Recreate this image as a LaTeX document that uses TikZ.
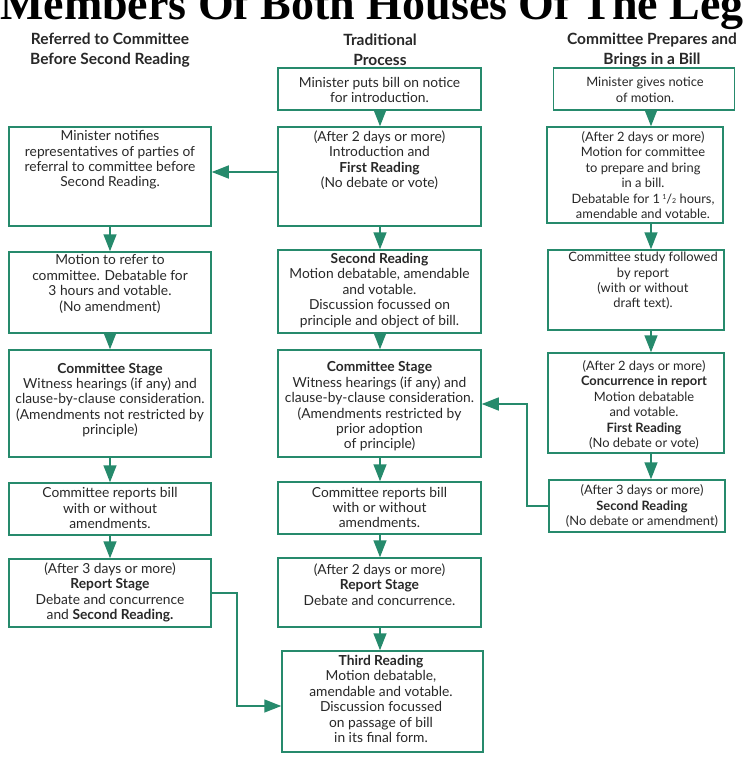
\documentclass[tikz,border=0pt]{standalone}
\usepackage{fontspec}
\setmainfont{Lato}
\newfontfamily\titlefont{Liberation Serif}
\usetikzlibrary{arrows.meta}
\definecolor{tealc}{RGB}{38,138,108}
\definecolor{inkc}{RGB}{40,40,40}
\newcommand{\onehalf}{1\,\raisebox{0.55ex}{\scriptsize 1}/{\scriptsize 2}}
\begin{document}
\begin{tikzpicture}[x=1pt,y=-1pt,
  box/.style={draw=tealc, line width=1.5pt, inner sep=0pt},
  txt/.style={align=center, text=inkc, inner sep=0pt, font=\fontsize{13.8}{15.4}\selectfont},
  rtxt/.style={txt, font=\fontsize{12.9}{15.4}\selectfont},
  hdr/.style={align=center, text=inkc, inner sep=0pt, font=\bfseries\fontsize{15.5}{20}\selectfont},
  arr/.style={draw=tealc, line width=1.5pt, -{Triangle[length=17pt,width=13pt]}}]
\useasboundingbox (0,0) rectangle (743,758);
\clip (0,0) rectangle (743,758);
\fill[white] (0,0) rectangle (743,758);

% title (cut off at the top, as in the reference)
\node[anchor=base west, inner sep=0pt, font=\titlefont\bfseries\fontsize{46}{46}\selectfont] (title) at (0,19) {Members Of Both Houses Of The Leg};

% headers
\node[hdr] (h1) at (110,50) {Referred to Committee\\Before Second Reading};
\node[hdr] (h2) at (380,50) {Traditional\\Process};
\node[hdr] (h3) at (652,50) {Committee Prepares and\\Brings in a Bill};

% left column
\node[box, minimum width=202pt, minimum height=99pt] (L1) at (110,176.5) {};
\node[box, minimum width=202pt, minimum height=81pt] (L2) at (110,292.5) {};
\node[box, minimum width=202pt, minimum height=107pt] (L3) at (110,403.5) {};
\node[box, minimum width=202pt, minimum height=52pt] (L4) at (110,509) {};
\node[box, minimum width=202pt, minimum height=68pt] (L5) at (110,593) {};

\node[txt] (L1t) at (110,160) {Minister notifies\\representatives of parties of\\referral to committee before\\Second Reading.};
\node[txt] (L2t) at (110,284) {Motion to refer to\\committee. Debatable for\\3 hours and votable.\\(No amendment)};
\node[txt] (L3t) at (110,400) {\textbf{Committee Stage}\\Witness hearings (if any) and\\clause-by-clause consideration.\\(Amendments not restricted by\\principle)};
\node[txt] (L4t) at (110,508) {Committee reports bill\\with or without\\amendments.};
\node[txt] (L5t) at (110,592.5) {(After 3 days or more)\\\textbf{Report Stage}\\Debate and concurrence\\and \textbf{Second Reading.}};

% centre column
\node[box, minimum width=203pt, minimum height=42pt] (C0) at (379.5,89) {};
\node[box, minimum width=203pt, minimum height=99pt] (C1) at (379.5,176.5) {};
\node[box, minimum width=203pt, minimum height=83pt] (C2) at (379.5,291.5) {};
\node[box, minimum width=203pt, minimum height=107pt] (C3) at (379.5,403.5) {};
\node[box, minimum width=203pt, minimum height=52pt] (C4) at (379.5,508) {};
\node[box, minimum width=203pt, minimum height=69pt] (C5) at (379.5,592.5) {};
\node[box, minimum width=201pt, minimum height=101pt] (C6) at (382.5,701.5) {};

\node[txt] (C0t) at (379.5,90) {Minister puts bill on notice\\for introduction.};
\node[txt] (C1t) at (379.5,160) {(After 2 days or more)\\Introduction and\\\textbf{First Reading}\\(No debate or vote)};
\node[txt] (C2t) at (379.5,290.5) {\textbf{Second Reading}\\Motion debatable, amendable\\and votable.\\Discussion focussed on\\principle and object of bill.};
\node[txt] (C3t) at (379.5,406.5) {\textbf{Committee Stage}\\Witness hearings (if any) and\\clause-by-clause consideration.\\(Amendments restricted by\\prior adoption\\of principle)};
\node[txt] (C4t) at (379.5,507.5) {Committee reports bill\\with or without\\amendments.};
\node[txt] (C5t) at (379.5,584.5) {(After 2 days or more)\\\textbf{Report Stage}\\Debate and concurrence.};
\node[txt] (C6t) at (381,699) {\textbf{Third Reading}\\Motion debatable,\\amendable and votable.\\Discussion focussed\\on passage of bill\\in its final form.};

% right column
\node[box, minimum width=181pt, minimum height=42pt] (R0) at (644,89) {};
\node[box, minimum width=176pt, minimum height=96pt] (R1) at (635,175) {};
\node[box, minimum width=176pt, minimum height=80pt] (R2) at (636,290) {};
\node[box, minimum width=176pt, minimum height=100pt] (R3) at (636,403) {};
\node[box, minimum width=176pt, minimum height=52pt] (R4) at (637,506) {};

\node[rtxt] (R0t) at (645,90) {Minister gives notice\\of motion.};
\node[rtxt] (R1t) at (643,175) {(After 2 days or more)\\Motion for committee\\to prepare and bring\\in a bill.\\Debatable for \onehalf{} hours,\\amendable and votable.};
\node[rtxt] (R2t) at (643,281) {Committee study followed\\by report\\(with or without\\draft text).};
\node[rtxt] (R3t) at (644,405) {(After 2 days or more)\\\textbf{Concurrence in report}\\Motion debatable\\and votable.\\\textbf{First Reading}\\(No debate or vote)};
\node[rtxt] (R4t) at (642,506) {(After 3 days or more)\\\textbf{Second Reading}\\(No debate or amendment)};

% arrow columns
\coordinate (aL) at (110,0);
\coordinate (aC) at (380,0);
\coordinate (aR) at (651,0);

\draw[arr] (L1.south -| aL) -- (L2.north -| aL);
\draw[arr] (L2.south -| aL) -- (L3.north -| aL);
\draw[arr] (L3.south -| aL) -- (L4.north -| aL);
\draw[arr] (L4.south -| aL) -- (L5.north -| aL);

\draw[arr] (C0.south -| aC) -- (C1.north -| aC);
\draw[arr] (C1.south -| aC) -- (C2.north -| aC);
\draw[arr] (C2.south -| aC) -- (C3.north -| aC);
\draw[arr] (C3.south -| aC) -- (C4.north -| aC);
\draw[arr] (C4.south -| aC) -- (C5.north -| aC);
\draw[arr] (C5.south -| aC) -- (C6.north -| aC);

\draw[arr] (R0.south -| aR) -- (R1.north -| aR);
\draw[arr] (R1.south -| aR) -- (R2.north -| aR);
\draw[arr] (R2.south -| aR) -- (R3.north -| aR);
\draw[arr] (R3.south -| aR) -- (R4.north -| aR);

% elbow connectors
\coordinate (y1) at (0,172);
\draw[arr] (C1.west |- y1) -- (L1.east |- y1);
\coordinate (k1) at (527,404);
\draw[arr] (R4.west) -| (k1) -- (C3.east |- k1);
\coordinate (k2) at (237,706);
\draw[arr] (L5.east) -| (k2) -- (C6.west |- k2);
\end{tikzpicture}
\end{document}
